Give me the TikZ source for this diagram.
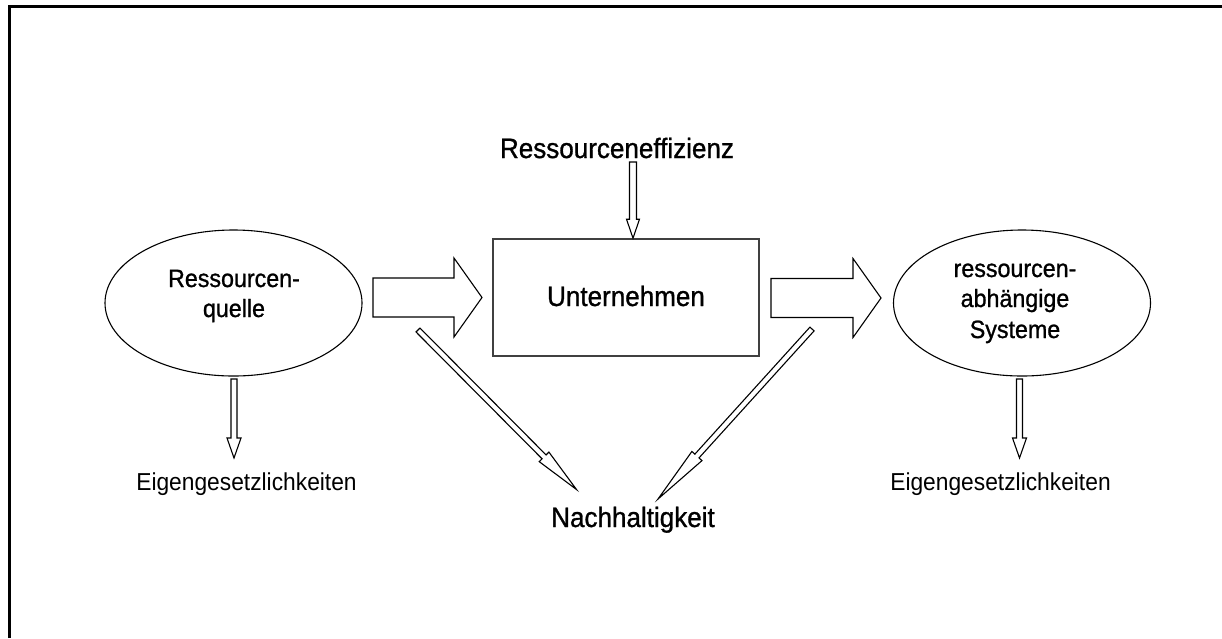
\documentclass[tikz,border=0pt]{standalone}
\usepackage{fontspec}
\setmainfont[FakeStretch=0.93]{Liberation Sans}
\newfontfamily\heavyfont[FakeStretch=0.93,FakeBold=1]{Liberation Sans}
\usetikzlibrary{shapes.geometric,calc}
\tikzset{
  barrow/.style={draw=black, line width=1.1pt, fill=white, line join=miter},
  bigtxt/.style={font=\heavyfont\fontsize{28}{30}\selectfont, inner sep=0pt, anchor=base},
  midtxt/.style={font=\heavyfont\fontsize{25}{30}\selectfont, inner sep=0pt, anchor=base},
  smalltxt/.style={font=\fontsize{24.5}{28}\selectfont, inner sep=0pt, anchor=base},
  oval/.style={ellipse, draw=black, line width=1.1pt, minimum width=257pt, minimum height=146pt, inner sep=0pt},
  firm/.style={rectangle, draw=black!75, line width=1.6pt, minimum width=266pt, minimum height=117pt, inner sep=0pt},
}
% #1 start, #2 tip, #3 half shaft width, #4 half head width, #5 head length
\newcommand{\blockarrow}[5]{%
  \draw[barrow] ($(#1)!#3!90:(#2)$)
    -- ($(#2)!#5!(#1)!#3!90:(#2)$)
    -- ($(#2)!#5!(#1)!#4!90:(#2)$)
    -- (#2)
    -- ($(#2)!#5!(#1)!#4!-90:(#2)$)
    -- ($(#2)!#5!(#1)!#3!-90:(#2)$)
    -- ($(#1)!#3!-90:(#2)$) -- cycle;}
\begin{document}
\begin{tikzpicture}[x=1pt,y=-1pt]
\useasboundingbox (0,0) rectangle (1222,638);
% frame
\draw[line width=3pt] (9.5,638) -- (9.5,6.5) -- (1222,6.5);
% main shapes
\node[oval] (src) at (233.5,303) {};
\node[oval] (sys) at (1022,303) {};
\node[firm] (unt) at (626,297.5) {};
% texts
\node[bigtxt] (eff) at (617,158) {Ressourceneffizienz};
\node[bigtxt] (untT) at (626,306) {Unternehmen};
\node[bigtxt] (nach) at (633,527) {Nachhaltigkeit};
\node[midtxt] (srcA) at (234,287) {Ressourcen-};
\node[midtxt] (srcB) at (234,317) {quelle};
\node[midtxt] (sysA) at (1015,277) {ressourcen-};
\node[midtxt] (sysB) at (1015,307) {abhängige};
\node[midtxt] (sysC) at (1015,338) {Systeme};
\node[smalltxt] (eigL) at (246.5,490) {Eigengesetzlichkeiten};
\node[smalltxt] (eigR) at (1000.5,490) {Eigengesetzlichkeiten};
% arrow end points
\coordinate (hA1) at (373,297.5);  \coordinate (hA2) at (482,297.5);
\coordinate (hB1) at (771,298);    \coordinate (hB2) at (881,298);
\coordinate (vT1) at (633,162);    \coordinate (vT2) at (unt.north -| vT1);
\coordinate (vL1) at (234,379);    \coordinate (vL2) at (234,458);
\coordinate (vR1) at (1019.5,379); \coordinate (vR2) at (1019.5,458);
\coordinate (dL1) at (418,330);    \coordinate (dL2) at (576.5,489.5);
\coordinate (dR1) at (812,329);    \coordinate (dR2) at (658,499);
% block arrows
\blockarrow{hA1}{hA2}{19.5pt}{39.5pt}{28pt}
\blockarrow{hB1}{hB2}{19.5pt}{39.5pt}{28pt}
\blockarrow{vT1}{vT2}{3.5pt}{6.5pt}{19pt}
\blockarrow{vL1}{vL2}{3pt}{7pt}{20pt}
\blockarrow{vR1}{vR2}{3pt}{7pt}{20pt}
\blockarrow{dL1}{dL2}{2.8pt}{6.8pt}{46pt}
\blockarrow{dR1}{dR2}{2.8pt}{6.8pt}{58pt}
\end{tikzpicture}
\end{document}
